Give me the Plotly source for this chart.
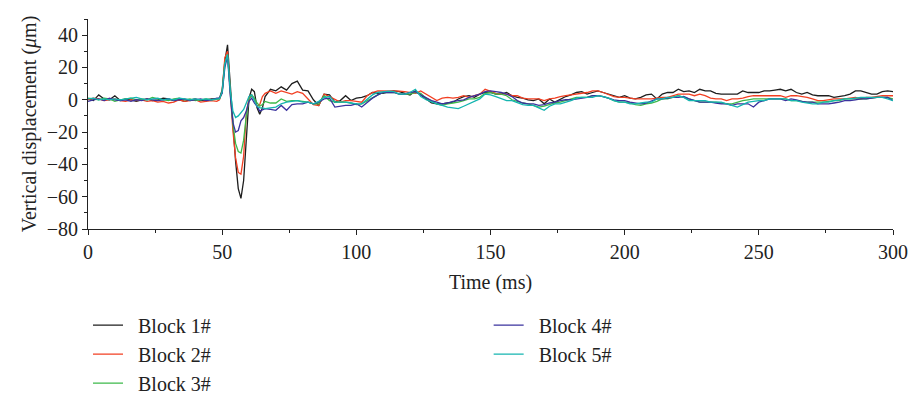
import plotly.graph_objects as go

TIME_MS = [
    0, 2, 4, 6, 8, 10, 12, 14, 16, 18,
    20, 22, 24, 26, 28, 30, 32, 34, 36, 38,
    40, 42, 44, 46, 48,
    49, 50, 51, 52, 53, 54, 55, 56, 57,
    58, 59, 60, 61, 62, 63, 64, 65,
    66, 68, 70, 72, 74, 76, 78, 80, 82, 84,
    86, 88, 90, 92, 94, 96, 98, 100, 102, 104,
    106, 108, 110, 112, 114, 116, 118, 120, 122, 124,
    126, 128, 130, 132, 134, 136, 138, 140, 142, 144,
    146, 148, 150, 152, 154, 156, 158, 160, 162, 164,
    166, 168, 170, 172, 174, 176, 178, 180, 182, 184,
    186, 188, 190, 192, 194, 196, 198, 200, 202, 204,
    206, 208, 210, 212, 214, 216, 218, 220, 222, 224,
    226, 228, 230, 232, 234, 236, 238, 240, 242, 244,
    246, 248, 250, 252, 254, 256, 258, 260, 262, 264,
    266, 268, 270, 272, 274, 276, 278, 280, 282, 284,
    286, 288, 290, 292, 294, 296, 298, 300,
]

BLOCK_1 = [
    0.5, -0.5, 3, 0.5, 0, 2.5, -0.5, 0.5, 0, -1,
    0, 0.5, -0.5, 0, 1, 0.5, -0.5, 0, -1, 0,
    0.5, -0.5, 0, 0.5, 0.5,
    1, 6, 24, 34, 10, -15, -38, -55, -61,
    -50, -22, 1, 6.5, 5, -5, -9, -5,
    2, 6.5, 5.5, 8, 6, 10, 11.5, 6, 5.5, 0,
    -3.5, 3.5, 3, -1.5, -0.5, 2.5, -0.5, 1, 1.5, 2.5,
    4.5, 4, 4, 5, 5.5, 5, 4, 3, 5.5, 3,
    0, -2, -2.5, -2.5, -2, -1.5, 0.5, 2, 2.5, 1.5,
    3.5, 4.5, 4.5, 3.5, 3.5, 4.5, 2.5, 1.5, 1, 0,
    -0.5, 0.5, -2.5, 0.5, -1.5, 0.5, 2, 3, 4.5, 5,
    3.5, 4.5, 5.5, 4.5, 3.5, 2.5, 1.5, 2.5, 1, 0.5,
    1.5, 3, 3.5, 0.5, 3.5, 4.5, 4.5, 6.5, 5, 5.5,
    4.5, 6.5, 5.5, 5.5, 4, 3.5, 3.5, 3.5, 3.5, 5.5,
    4.5, 4.5, 4.5, 5.5, 5.5, 6, 6.5, 5.5, 6.5, 4.5,
    3.5, 4.5, 3, 2.5, 2.5, 2.5, 1.5, 2, 2.5, 3.5,
    5.5, 5.5, 4.5, 3.5, 3.5, 5, 5.5, 5,
]

BLOCK_2 = [
    0, 1, 0.5, -0.5, 0, 0.5, -0.5, -1, 0, -0.5,
    0, -1, -0.5, -1.5, -1, -2, -1.5, 0, -1, -0.5,
    0, -1.5, -1, -0.5, -1,
    0, 5, 26, 30, 3, -19, -36, -45, -46,
    -35, -8, 1, 3, 0, -4, -3, 2,
    4, 5.5, 4, 5.5, 4.5, 3.5, 5, 4, 0.5, -3,
    -3.5, 3.5, 2, 0, -1.5, -0.5, -0.5, -1, -1.5, 2.5,
    4.5, 5.5, 5.5, 5.3, 5.7, 5.3, 5, 4.5, 4, 5.5,
    3.5, 1, -0.5, 1, 1.5, 1, 1.5, 2.5, 1.5, 2.5,
    3.5, 6.5, 5, 4, 3.5, 3.5, 2.5, 2.5, 1, 0.5,
    0.5, 0.5, -0.5, 0.5, 1, 2, 2.5, 3, 3.5, 4,
    4.5, 5.5, 5.5, 4.5, 3, 2, 1.5, 1.5, 1, 0.5,
    0.5, 0.5, 0.5, 1, 1.5, 1.5, 2.5, 3.5, 3.5, 3.5,
    2.5, 3.5, 2.5, 1, 0.5, 0.5, -0.5, 0.5, 0.5, 1,
    2, 2.5, 2.5, 2.5, 2.5, 2.5, 2.5, 1.5, 2.5, 2.5,
    2, 1.5, 0.5, -0.5, -0.5, 0, 0.5, 0.5, 0.5, 1,
    1.5, 0.5, 1.5, 1.5, 2, 2.5, 2.5, 2.5,
]

BLOCK_3 = [
    1, 0.5, 0, 1, 0.5, -1, 0, 0.5, 1, 0,
    0.5, 0, 1.5, 0.5, 0, -0.5, 0.5, 1, 0, 0.5,
    -0.5, 0, 0.5, 0, 0.5,
    0.5, 5, 22, 28, 4, -15, -27, -32, -33,
    -25, -10, 0, 3, 1, -2, -4, -3,
    -1, -2, -2, 0.5, -1, -0.5, -0.5, -1, -1.5, -2.5,
    -2.5, 2.5, -0.5, -1.5, -1.5, -1.5, -2, -3, -2.5, -0.5,
    1, 3, 4.5, 4.5, 4.5, 3.5, 3.5, 3.5, 4.5, 4,
    1, -1, -2.5, -3.5, -2.5, -2, -1.5, -0.5, 0.5, 0.5,
    1.5, 4, 4.5, 3.5, 3.5, 2.5, 0, -1, -2, -2.5,
    -3.5, -4.5, -4, -3, -2, -1.5, -0.5, 0.5, 1.5, 1.5,
    1.5, 2.5, 2.5, 2, 1, -0.5, -1.5, -1.5, -2, -3,
    -3.5, -2.5, -2, -1, 0.5, 0.5, 1.5, 2.5, 1.5, 0.5,
    -0.5, -1.5, -1.5, -1.5, -1.5, -2, -2.5, -2.5, -1.5, -0.5,
    0, 0.5, 0.5, 0.5, 0.5, 0.5, 0.5, 0.5, -0.5, -0.5,
    -1, -1.5, -1.5, -1.5, -1.5, -1, -0.5, -0.5, 0.5, 0.5,
    0.5, 0.5, 0.5, 1, 1.5, 1.5, 1.5, 0.5,
]

BLOCK_4 = [
    -1, 0, 0.5, -0.5, 1, 0, -0.5, 0, -1, 0,
    -0.5, 0.5, 0, -0.5, 0, 0.5, -0.5, 0, 0.5, -0.5,
    0, 0.5, -0.5, 0, 1,
    1, 4, 20, 27, 3, -14, -20, -19, -13,
    -11, -7, -1, 1, -2, -4, -7, -6,
    -5.5, -6, -6.5, -3.5, -6.5, -3, -2.5, -2.5, -1.5, -2.5,
    -1.5, 0.5, 1, -4.5, -4, -3.5, -3.5, -2.5, -4.5, -1.5,
    1, 3, 4.5, 4.5, 4.5, 3.5, 3.5, 4.5, 5, 3,
    1, -0.5, -1.5, -2.5, -2, -1, -0.5, 0, 1.5, 2.5,
    3.5, 5, 5.5, 5, 4.5, 3.5, 2, -0.5, -2, -2.5,
    -2.5, -3.5, -3, -2, -1.5, -0.5, 0, 0, 0.5, 1,
    1.5, 2.5, 2.5, 2, 1, 0, -0.5, -0.5, -1.5, -2,
    -2.5, -2, -0.5, 0.5, 0.5, 1, 1.5, 1.5, 2, 0.5,
    -0.5, -1.5, -1.5, -1.5, -2, -2.5, -2.5, -3.5, -2.5, -2.5,
    -2.5, -4.5, -1.5, -0.5, 0.5, 0.5, 0.5, -0.5, 0.5, 0,
    -1, -1.5, -1.5, -2.5, -2.5, -2.5, -2, -1.5, -0.5, -0.5,
    0, 0.5, 0.5, 1, 1.5, 1.5, 1.5, -0.5,
]

BLOCK_5 = [
    0.5, 1, 0, 0.5, 0, 0.5, 0, 0.5, 1, 1.5,
    0.5, 0, 0.5, 1, 0, 0.5, 0, 1, 0.5, 0,
    0.5, 0, 0.5, 0, 0.5,
    0.5, 5, 22, 28, 6, -7, -11, -10, -8,
    -6, -2, 2, 3, -1, -4, -5, -5,
    -5.5, -5, -4.5, -2.5, -1.5, -1, -0.5, -1.5, -1.5, -2.5,
    -1, 1.5, 2, -1.5, -1.5, -1.5, -2, -2.5, -2.5, 0.5,
    3, 4.5, 5, 5.3, 5, 3.5, 3.5, 4.5, 6.5, 2,
    0, -1.5, -2.5, -3.5, -4.5, -5, -5.5, -4, -2.5, -0.5,
    0.5, 3.5, 3, 2, 0.5, -0.5, -0.5, -2, -3, -3.5,
    -3.5, -5, -6.5, -4, -2.5, -2.5, -1.5, -0.5, 1, 1.5,
    1.5, 1.5, 2.5, 2, 1, -0.5, -1.5, -1.5, -2.5, -2.5,
    -2, -1.5, -1.5, 0.5, 0.5, 1.5, 1.5, 2.5, 1.5, -0.5,
    -0.5, -0.5, -0.5, -1.5, -1.5, -1.5, -2.5, -3.5, -4.5, -3,
    -1.5, -1, -0.5, -0.5, 0.5, 0.5, 0.5, 0.5, -0.5, -0.5,
    -1.5, -2, -2.5, -2.5, -1.5, -1.5, -0.5, 0, 0.5, 0.5,
    1, 1.5, 1.5, 1.5, 1.5, 1.5, 0.5, -0.5,
]

SERIES_NAMES = ["Block 1#", "Block 2#", "Block 3#", "Block 4#", "Block 5#"]
SERIES_DATA = [BLOCK_1, BLOCK_2, BLOCK_3, BLOCK_4, BLOCK_5]
COLORS = ["#1e1e1e", "#f23f22", "#3cb94a", "#3a329e", "#14b5b0"]
LEGENDS = ["legend", "legend", "legend", "legend2", "legend2"]

for s in SERIES_DATA:
    assert len(s) == len(TIME_MS), (len(s), len(TIME_MS))

FONT = "Liberation Serif"

fig = go.Figure()
for name, ys, color, lg in zip(SERIES_NAMES, SERIES_DATA, COLORS, LEGENDS):
    fig.add_trace(go.Scatter(
        x=TIME_MS, y=ys, mode="lines", name="\u00a0\u00a0" + name,
        line=dict(color=color, width=1.3), legend=lg,
    ))

axis_common = dict(
    showline=True, linecolor="#222", linewidth=1, showgrid=False, zeroline=False,
    ticks="outside", ticklen=5, tickwidth=1, tickcolor="#222",
    tickfont=dict(family=FONT, size=20, color="#222"),
    automargin=True,
)

legend_font = dict(family=FONT, size=20, color="#222")

fig.update_layout(
    width=910, height=397,
    margin=dict(l=88, r=17, t=19, b=168, autoexpand=False),
    paper_bgcolor="white", plot_bgcolor="white",
    font=dict(family=FONT, size=20, color="#222"),
    xaxis=dict(range=[0, 300], dtick=50, tick0=0,
               title=dict(text="Time (ms)", font=dict(family=FONT, size=20), standoff=12),
               minor=dict(ticks="outside", ticklen=3, tickwidth=1, tickcolor="#222", dtick=25),
               **axis_common),
    yaxis=dict(range=[-80, 50], tickvals=[-80, -60, -40, -20, 0, 20, 40],
               title=dict(text="Vertical displacement (<i>μ</i>m)", font=dict(family=FONT, size=20), standoff=4),
               minor=dict(ticks="outside", ticklen=3, tickwidth=1, tickcolor="#222",
                          tickvals=[-70, -50, -30, -10, 10, 30, 50]),
               **axis_common),
    legend=dict(x=0.0, xanchor="left", y=-0.365, yanchor="top", orientation="v",
                font=legend_font, bgcolor="rgba(0,0,0,0)"),
    legend2=dict(x=0.4977, xanchor="left", y=-0.365, yanchor="top", orientation="v",
                 font=legend_font, bgcolor="rgba(0,0,0,0)"),
    showlegend=True,
)

fig.write_html("out.html")
